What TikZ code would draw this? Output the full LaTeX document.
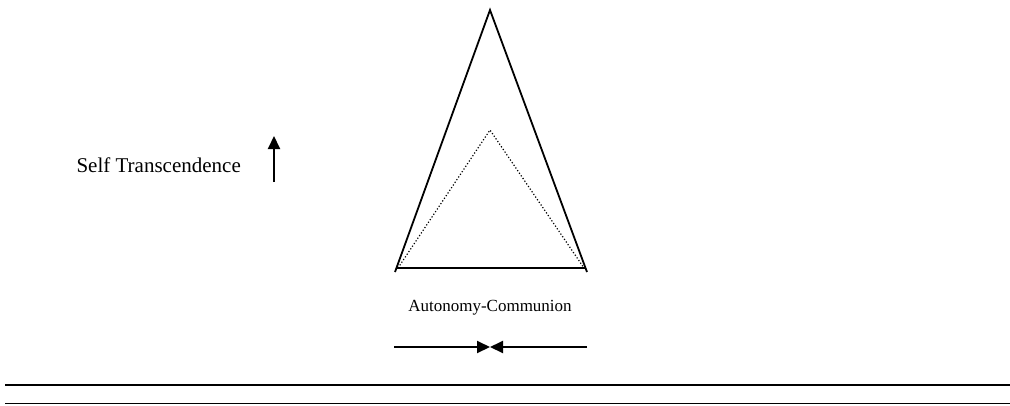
\documentclass[tikz,border=0pt]{standalone}
\usepackage{fontspec}
\setmainfont{Liberation Serif}
\usetikzlibrary{arrows.meta, positioning}
\tikzset{
	lbl/.style={font=\fontsize{17}{20}\selectfont, inner sep=0pt},
	biglbl/.style={font=\fontsize{21}{24}\selectfont, inner sep=0pt},
	side/.style={line width=1.8pt},
	inner/.style={line width=1.2pt, dotted},
	arr/.style={-{Triangle[length=13pt, width=12pt]}, line width=2pt},
	rule/.style={line width=2.4pt},
	thinrule/.style={line width=1.5pt},
}
\begin{document}
\begin{tikzpicture}[x=1pt, y=-1pt]
	\useasboundingbox (0,0) rectangle (1010,405);
	% outer triangle
	\coordinate (apex) at (490,10);
	\coordinate (bl) at (396,268);
	\coordinate (br) at (586,268);
	\coordinate (bltick) at (395,272);
	\coordinate (brtick) at (587,272);
	\draw[side] (bltick) -- (apex) -- (brtick);
	\draw[side] (bl) -- (br);
	% inner dotted triangle
	\coordinate (iapex) at (490,130);
	\coordinate (ibl) at (398,268);
	\coordinate (ibr) at (584,268);
	\draw[inner] (ibl) -- (iapex) -- (ibr);
	% labels
	\node[biglbl, anchor=east] (self) at (241,165) {Self Transcendence};
	\coordinate (upfrom) at (274,182);
	\coordinate (upto) at (274,136);
	\draw[arr] (upfrom) -- (upto);
	\node[lbl] (auto) at (490,308) {Autonomy-Communion};
	% converging arrows
	\coordinate (lfrom) at (394,347);
	\coordinate (mid) at (490,347);
	\coordinate (rfrom) at (587,347);
	\draw[arr] (lfrom) -- (mid);
	\draw[arr] (rfrom) -- (mid);
	% rules
	\coordinate (r1a) at (5,385);
	\coordinate (r1b) at (1010,385);
	\coordinate (r2a) at (5,403.5);
	\coordinate (r2b) at (1010,403.5);
	\draw[rule] (r1a) -- (r1b);
	\draw[thinrule] (r2a) -- (r2b);
\end{tikzpicture}
\end{document}
